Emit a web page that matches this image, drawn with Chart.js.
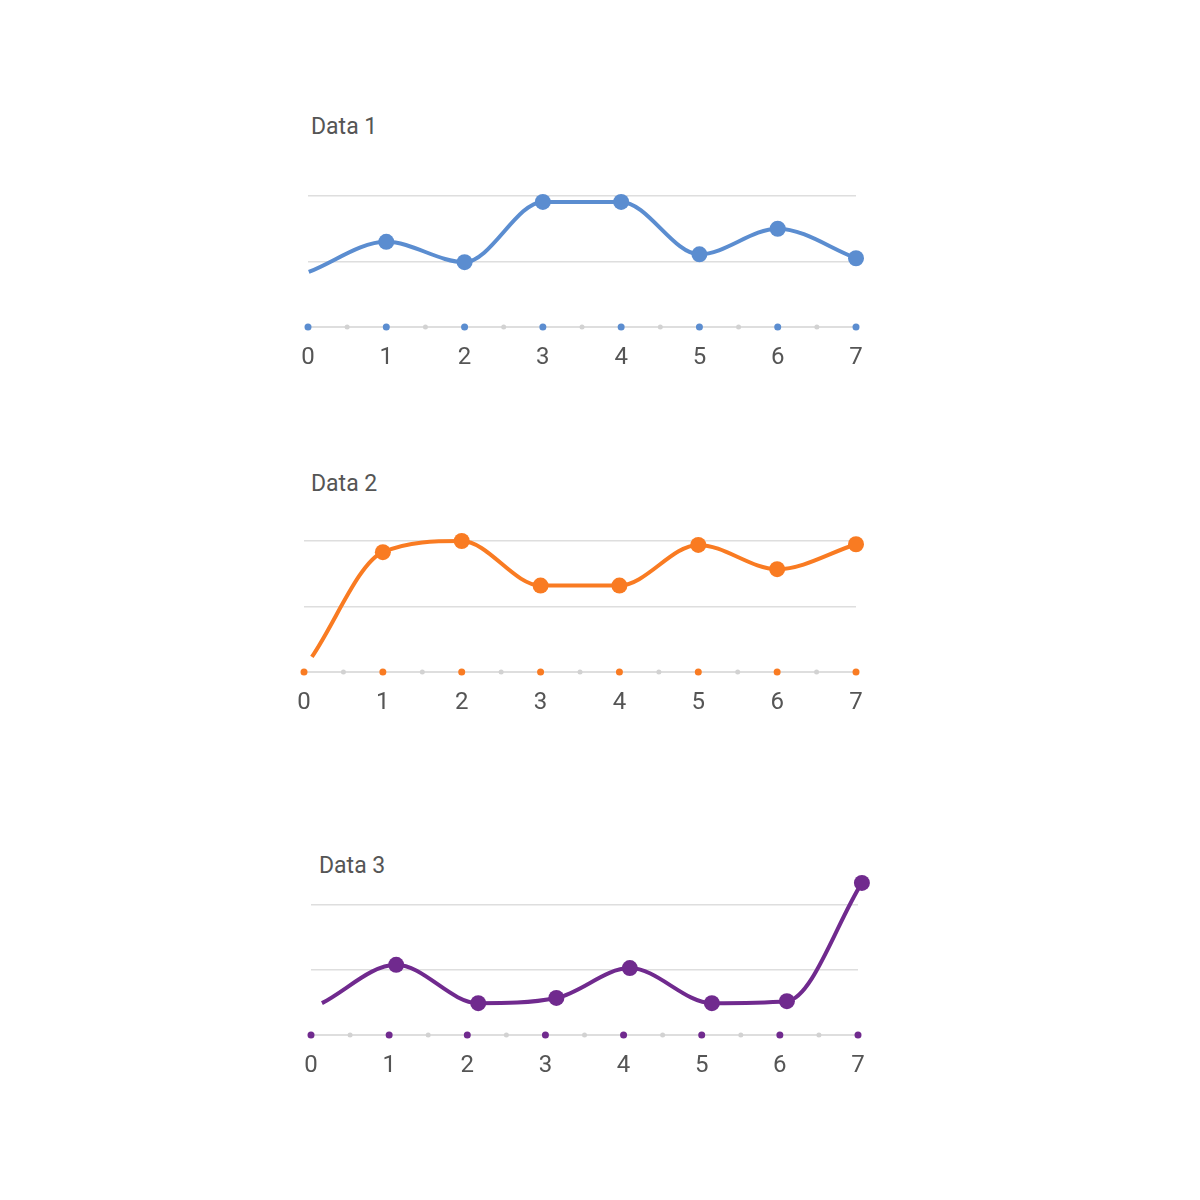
<!DOCTYPE html>
<html>
<head>
<meta charset="utf-8">
<script src="https://cdn.jsdelivr.net/npm/chart.js@4/dist/chart.umd.min.js"></script>
<style>
  body { margin: 0; background: #fff; width: 1200px; height: 1200px; position: relative; overflow: hidden; }
  canvas { position: absolute; }
  .ttl { position: absolute; font-family: Roboto, sans-serif; font-size: 23px; line-height: 26px; color: #555; white-space: nowrap; }
</style>
</head>
<body>
<div class="ttl" style="left:311px; top:114px">Data 1</div>
<div class="ttl" style="left:311px; top:471px">Data 2</div>
<div class="ttl" style="left:319px; top:853px">Data 3</div>
<canvas id="c1" width="628" height="237" style="left:268px; top:150px"></canvas>
<canvas id="c2" width="632" height="237" style="left:264px; top:495px"></canvas>
<canvas id="c3" width="627" height="236" style="left:271px; top:859px"></canvas>
<script>
// tick labels and axis dots
const xTickLabels = ['0', '1', '2', '3', '4', '5', '6', '7'];
const majorTicks = [0, 1, 2, 3, 4, 5, 6, 7];
const minorTicks = [0.5, 1.5, 2.5, 3.5, 4.5, 5.5, 6.5];

// series values
const data1X = [0.01, 1, 2, 3, 4, 5, 6, 7];
const data1Y = [0.84, 1.30, 0.99, 1.91, 1.91, 1.11, 1.50, 1.05];

const data2X = [0.1, 1, 2, 3, 4, 5, 6, 7];
const data2Y = [0.23, 1.83, 2.0, 1.32, 1.32, 1.94, 1.57, 1.95];

const data3X = [0.14, 1.09, 2.14, 3.14, 4.08, 5.13, 6.09, 7.05];
const data3Y = [0.49, 1.08, 0.49, 0.57, 1.03, 0.49, 0.52, 2.34];

const BLUE = '#5b8dd0';
const ORANGE = '#f97b22';
const PURPLE = '#702a8e';
const GRID = '#dedede';
const TEXT = '#555';

function drawChart(id, xs, ys, color, padTop) {
  const pts = xs.map((x, i) => ({ x: x, y: ys[i] }));
  new Chart(document.getElementById(id), {
    type: 'line',
    data: {
      datasets: [
        {
          data: pts,
          borderColor: color,
          backgroundColor: color,
          borderWidth: 4,
          cubicInterpolationMode: 'monotone',
          fill: false,
          clip: false,
          pointRadius: pts.map((p, i) => i == 0 ? 0 : 8),
          pointBorderWidth: 0
        },
        {
          data: majorTicks.map(x => ({ x: x, y: 0 })),
          showLine: false,
          clip: false,
          pointRadius: 3.5,
          pointBorderWidth: 0,
          backgroundColor: color
        },
        {
          data: minorTicks.map(x => ({ x: x, y: 0 })),
          showLine: false,
          clip: false,
          pointRadius: 2.5,
          pointBorderWidth: 0,
          backgroundColor: '#d2d2d2'
        }
      ]
    },
    options: {
      responsive: false,
      animation: false,
      events: [],
      layout: { padding: { left: 40, right: 40, top: padTop, bottom: 0 } },
      plugins: { legend: { display: false }, tooltip: { enabled: false }, title: { display: false } },
      scales: {
        x: {
          type: 'linear',
          min: 0,
          max: 7,
          grid: { display: false, drawTicks: false },
          border: { display: false },
          ticks: {
            stepSize: 1,
            autoSkip: false,
            maxRotation: 0,
            padding: 17,
            color: TEXT,
            font: { family: 'Roboto', size: 24 },
            callback: v => xTickLabels[v]
          },
          afterFit: s => { s.height = 60; }
        },
        y: {
          min: 0,
          max: 2.4,
          grid: {
            color: GRID,
            drawTicks: false,
            lineWidth: c => c.tick && c.tick.value === 0 ? 2 : 1.5
          },
          border: { display: false },
          ticks: { display: false, stepSize: 1, includeBounds: false },
          afterFit: s => { s.width = 0; }
        }
      }
    }
  });
}

drawChart('c1', data1X, data1Y, BLUE, 19.8);
drawChart('c2', data2X, data2Y, ORANGE, 19.8);
drawChart('c3', data3X, data3Y, PURPLE, 20);
</script>
</body>
</html>
